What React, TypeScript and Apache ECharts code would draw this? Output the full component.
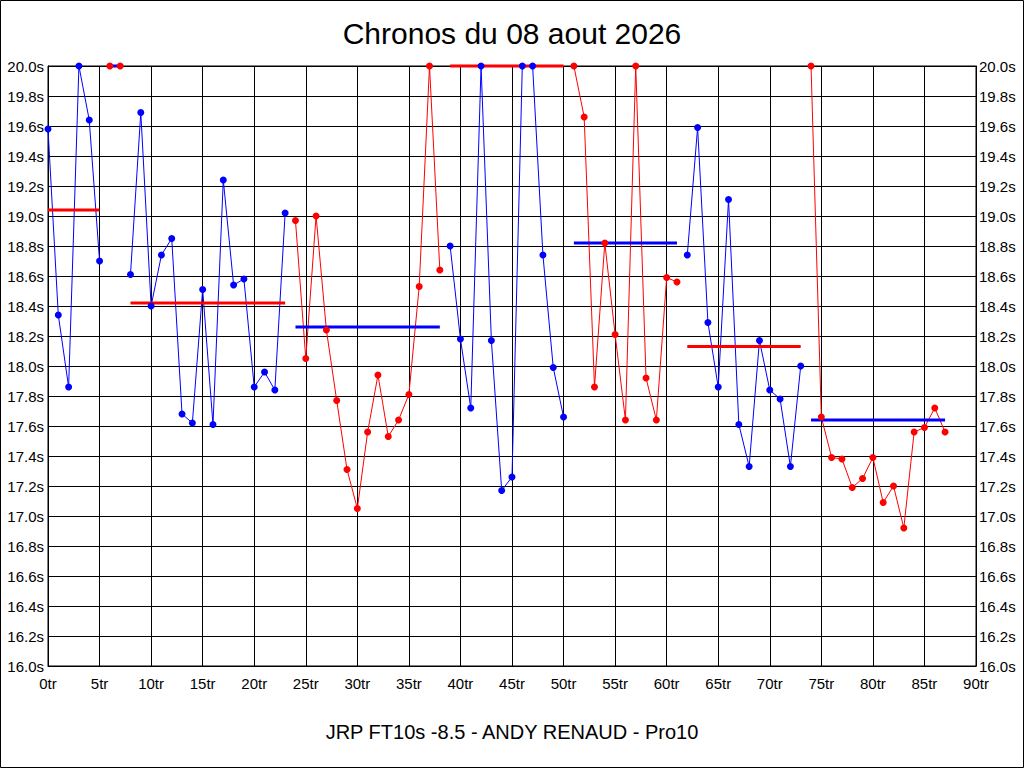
import React, { useEffect, useRef } from "react";
import * as echarts from "echarts";

// Lap times in seconds, lap 0 .. 87
const lapTimes: number[] = [
  19.58, 18.34, 17.86, 20.0, 19.64, 18.7,
  20.0, 20.0,
  18.61, 19.69, 18.4, 18.74, 18.85, 17.68, 17.62, 18.51, 17.61, 19.24, 18.54, 18.58, 17.86, 17.96, 17.84, 19.02,
  18.97, 18.05, 19.0, 18.24, 17.77, 17.31, 17.05, 17.56, 17.94, 17.53, 17.64, 17.81, 18.53, 20.0, 18.64,
  18.8, 18.18, 17.72, 20.0, 18.17, 17.17, 17.26, 20.0, 20.0, 18.74, 17.99, 17.66,
  20.0, 19.66, 17.86, 18.82, 18.21, 17.64, 20.0, 17.92, 17.64, 18.59, 18.56,
  18.74, 19.59, 18.29, 17.86, 19.11, 17.61, 17.33, 18.17, 17.84, 17.78, 17.33, 18.0,
  20.0, 17.66, 17.39, 17.38, 17.19, 17.25, 17.39, 17.09, 17.2, 16.92, 17.56, 17.59, 17.72, 17.56,
];

// First lap of each run segment
const segmentStarts: number[] = [0, 6, 8, 24, 39, 51, 62, 74];
// Reference (average) line of each segment
const segmentAverages: number[] = [19.04, 20.0, 18.42, 18.26, 20.0, 18.82, 18.13, 17.64];

const titleText = "Chronos du 08 aout 2026";
const footerText = "JRP FT10s -8.5 - ANDY RENAUD - Pro10";
const xUnit = "tr";
const yUnit = "s";

const BLUE = "#0000ff";
const RED = "#ff0000";
const FONT = "'Liberation Sans', Arial, sans-serif";

export default function App() {
  const ref = useRef<HTMLDivElement>(null);

  useEffect(() => {
    if (!ref.current) return;
    const chart = echarts.init(ref.current, undefined, { renderer: "svg" });

    const lineSeries: any[] = [];
    const avgSeries: any[] = [];
    const dotSeries: any[] = [];

    segmentStarts.forEach((start, i) => {
      const next = i + 1 < segmentStarts.length ? segmentStarts[i + 1] : lapTimes.length;
      const end = next - 1;
      const pts = lapTimes.slice(start, next).map((v, k) => [start + k, v]);
      const pointColor = i % 2 === 0 ? BLUE : RED;
      const avgColor = i % 2 === 0 ? RED : BLUE;
      lineSeries.push({
        type: "line",
        data: pts,
        showSymbol: false,
        symbol: "none",
        clip: false,
        z: 2,
        lineStyle: { color: pointColor, width: 1, opacity: 1 },
        itemStyle: { color: pointColor },
        silent: true,
      });
      avgSeries.push({
        type: "line",
        data: [
          [start, segmentAverages[i]],
          [end, segmentAverages[i]],
        ],
        showSymbol: false,
        symbol: "none",
        clip: false,
        z: 3,
        lineStyle: { color: avgColor, width: 3, opacity: 1 },
        silent: true,
      });
      dotSeries.push({
        type: "scatter",
        data: pts,
        symbol: "circle",
        symbolSize: 7,
        clip: false,
        z: 4,
        itemStyle: { color: pointColor, opacity: 1 },
        silent: true,
      });
    });

    const yAxisCommon = {
      type: "value",
      min: 16,
      max: 20,
      interval: 0.2,
      axisTick: { show: false },
      axisLine: { show: true, lineStyle: { color: "#000", width: 1 } },
      axisLabel: {
        color: "#000",
        fontSize: 15,
        fontFamily: FONT,
        formatter: (v: number) => v.toFixed(1) + yUnit,
      },
    };

    chart.setOption({
      animation: false,
      backgroundColor: "#fff",
      title: [
        {
          text: titleText,
          left: "center",
          top: 18,
          padding: 0,
          textStyle: { fontSize: 30, fontWeight: "normal", color: "#000", fontFamily: FONT },
        },
        {
          text: footerText,
          left: "center",
          top: 722,
          padding: 0,
          textStyle: { fontSize: 20, fontWeight: "normal", color: "#000", fontFamily: FONT },
        },
      ],
      grid: {
        left: 48,
        right: 48,
        top: 66,
        bottom: 102,
        show: true,
        borderColor: "#000",
        borderWidth: 1,
        backgroundColor: "transparent",
      },
      xAxis: {
        type: "value",
        min: 0,
        max: 90,
        interval: 5,
        axisTick: { show: false },
        axisLine: { show: true, onZero: false, lineStyle: { color: "#000", width: 1 } },
        splitLine: { show: true, lineStyle: { color: "#000", width: 1 } },
        axisLabel: {
          color: "#000",
          fontSize: 15,
          fontFamily: FONT,
          margin: 10,
          formatter: (v: number) => v + xUnit,
        },
      },
      yAxis: [
        {
          ...yAxisCommon,
          position: "left",
          splitLine: { show: true, lineStyle: { color: "#000", width: 1 } },
          axisLabel: { ...yAxisCommon.axisLabel, margin: 4 },
        },
        {
          ...yAxisCommon,
          position: "right",
          splitLine: { show: false },
          axisLabel: { ...yAxisCommon.axisLabel, margin: 3 },
        },
      ],
      graphic: [
        {
          type: "rect",
          shape: { x: 0.5, y: 0.5, width: 1023, height: 767 },
          style: { fill: "none", stroke: "#000", lineWidth: 1 },
          silent: true,
          z: 100,
        },
      ],
      series: [...lineSeries, ...avgSeries, ...dotSeries],
    });

    return () => chart.dispose();
  }, []);

  return (
    <div
      ref={ref}
      style={{ position: "absolute", left: 0, top: 0, width: 1024, height: 768, background: "#fff" }}
    />
  );
}
